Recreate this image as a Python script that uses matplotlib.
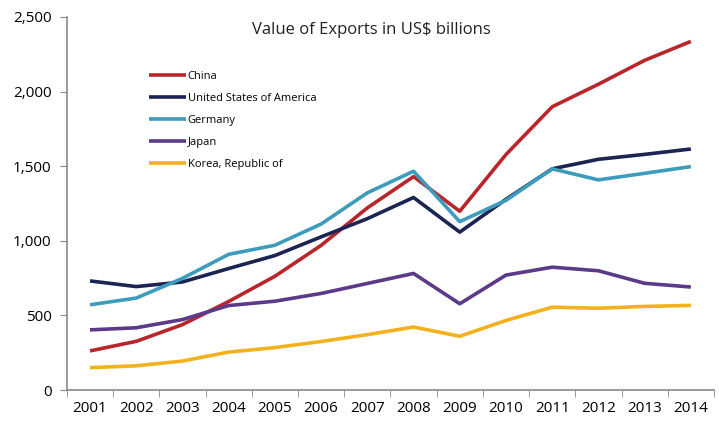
import numpy as np
import matplotlib
matplotlib.use('Agg')
import matplotlib.pyplot as plt
from matplotlib.ticker import FuncFormatter

plt.rcParams['font.family'] = ['Open Sans', 'DejaVu Sans']

years = ['2001', '2002', '2003', '2004', '2005', '2006', '2007',
         '2008', '2009', '2010', '2011', '2012', '2013', '2014']

china   = [262, 326, 438, 593, 762, 969, 1220, 1430, 1198, 1578, 1898, 2049, 2209, 2336]
usa     = [731, 693, 724, 814, 901, 1026, 1148, 1290, 1058, 1278, 1482, 1546, 1579, 1615]
germany = [571, 616, 748, 909, 970, 1112, 1321, 1466, 1128, 1271, 1482, 1408, 1452, 1497]
japan   = [403, 417, 472, 566, 595, 647, 714, 781, 578, 770, 823, 799, 715, 690]
korea   = [150, 162, 194, 254, 284, 325, 371, 422, 360, 466, 555, 548, 560, 567]

series = [('China', china, '#B8262C'),
          ('United States of America', usa, '#1C2452'),
          ('Germany', germany, '#3D9BBB'),
          ('Japan', japan, '#5B3A8A'),
          ('Korea, Republic of', korea, '#F3B11E')]

fig = plt.figure(figsize=(7.19, 4.23), dpi=100)
ax = fig.add_axes([0.093, 0.078, 0.9, 0.882])

x = np.arange(len(years))
for name, vals, col in series:
    ax.plot(x, vals, color=col, lw=2.6, label=name, solid_capstyle='butt')

ax.set_xlim(-0.5, len(years) - 0.5)
ax.set_ylim(0, 2500)
ax.set_yticks(np.arange(0, 2501, 500))
ax.yaxis.set_major_formatter(FuncFormatter(lambda v, p: format(int(v), ',')))
ax.set_xticks(x)
ax.set_xticklabels(years)
ax.set_xticks(np.arange(-0.5, len(years), 1), minor=True)
ax.tick_params(axis='x', which='major', length=0, pad=8, labelsize=11)
ax.tick_params(axis='x', which='minor', length=5, color='#888888', direction='out')
ax.tick_params(axis='y', length=5, color='#888888', labelsize=11, pad=6)

for s in ['top', 'right']:
    ax.spines[s].set_visible(False)
for s in ['left', 'bottom']:
    ax.spines[s].set_color('#888888')
    ax.spines[s].set_linewidth(1.2)

ax.text(0.47, 0.965, 'Value of Exports in US$ billions', transform=ax.transAxes,
        ha='center', va='center', fontsize=12, color='#222222')

leg = ax.legend(loc='upper left', bbox_to_anchor=(0.12, 0.866), frameon=False,
                fontsize=8, handlelength=3.3, handletextpad=0.2,
                labelspacing=0.98, borderaxespad=0)

fig.savefig('out.png', dpi=100)
